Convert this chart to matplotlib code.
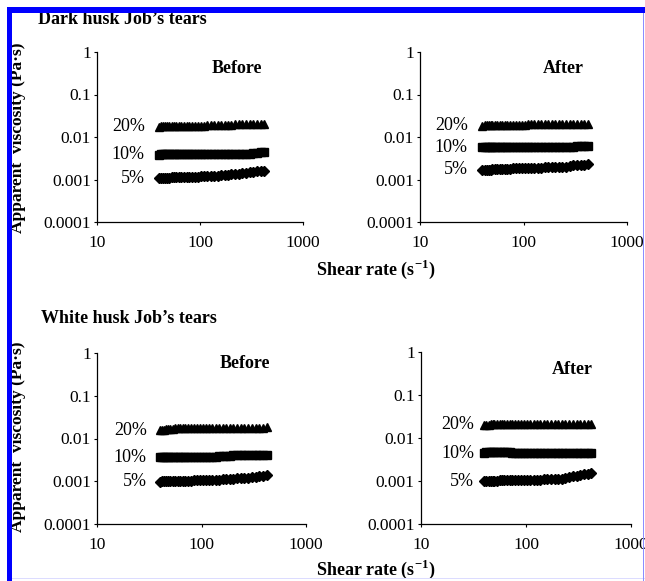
import numpy as np
import matplotlib.pyplot as plt
from matplotlib.patches import Rectangle

plt.rcParams['font.family'] = ['Liberation Serif', 'DejaVu Serif']
plt.rcParams['mathtext.fontset'] = 'custom'
plt.rcParams['mathtext.rm'] = 'Liberation Serif'
plt.rcParams['mathtext.bf'] = 'Liberation Serif:bold'

W, H = 645, 581

# shear rate grid (1/s)
shear_rate = [40, 42, 44, 46, 48, 50, 53, 56, 59, 62, 66, 70, 74, 79, 84, 90, 96, 103,
              110, 118, 127, 137, 148, 160, 173, 187, 202, 219, 237, 257, 279, 303, 329, 357, 388, 420]

# dark husk, before
dark_before_20 = [0.0176, 0.0177, 0.0177, 0.0178, 0.0178, 0.0178, 0.0179, 0.0179, 0.0180, 0.0180, 0.0181, 0.0181,
                  0.0182, 0.0182, 0.0183, 0.0183, 0.0184, 0.0185, 0.0186, 0.0188, 0.0190, 0.0191, 0.0192, 0.0193,
                  0.0194, 0.0195, 0.0196, 0.0197, 0.0197, 0.0198, 0.0199, 0.0200, 0.0200, 0.0201, 0.0202, 0.0203]
dark_before_10 = [0.00380, 0.00400, 0.00400, 0.00400, 0.00400, 0.00400, 0.00400, 0.00400, 0.00400, 0.00400, 0.00401, 0.00401,
                  0.00401, 0.00401, 0.00402, 0.00402, 0.00402, 0.00402, 0.00403, 0.00403, 0.00403, 0.00403, 0.00404, 0.00404,
                  0.00404, 0.00405, 0.00405, 0.00405, 0.00406, 0.00406, 0.00407, 0.00408, 0.00410, 0.00430, 0.00445, 0.00450]
dark_before_5 = [0.00108, 0.00109, 0.00110, 0.00110, 0.00111, 0.00111, 0.00112, 0.00112, 0.00113, 0.00113, 0.00113, 0.00114,
                 0.00114, 0.00115, 0.00115, 0.00116, 0.00117, 0.00118, 0.00119, 0.00120, 0.00121, 0.00123, 0.00124, 0.00126,
                 0.00128, 0.00130, 0.00132, 0.00134, 0.00137, 0.00140, 0.00143, 0.00147, 0.00151, 0.00155, 0.00158, 0.00162]

# dark husk, after
dark_after_20 = [0.0186, 0.0187, 0.0187, 0.0188, 0.0188, 0.0189, 0.0189, 0.0190, 0.0190, 0.0190, 0.0191, 0.0191,
                 0.0192, 0.0192, 0.0193, 0.0194, 0.0195, 0.0196, 0.0197, 0.0198, 0.0199, 0.0200, 0.0200, 0.0201,
                 0.0201, 0.0202, 0.0202, 0.0203, 0.0203, 0.0204, 0.0204, 0.0205, 0.0205, 0.0206, 0.0206, 0.0207]
dark_after_10 = [0.00570, 0.00570, 0.00570, 0.00571, 0.00571, 0.00571, 0.00572, 0.00572, 0.00572, 0.00573, 0.00573, 0.00573,
                 0.00574, 0.00574, 0.00574, 0.00575, 0.00575, 0.00575, 0.00576, 0.00576, 0.00576, 0.00577, 0.00577, 0.00577,
                 0.00578, 0.00578, 0.00578, 0.00579, 0.00579, 0.00580, 0.00580, 0.00581, 0.00600, 0.00610, 0.00612, 0.00615]
dark_after_5 = [0.00168, 0.00169, 0.00170, 0.00170, 0.00171, 0.00172, 0.00173, 0.00174, 0.00175, 0.00176, 0.00178, 0.00180,
                0.00181, 0.00182, 0.00183, 0.00184, 0.00185, 0.00186, 0.00187, 0.00188, 0.00189, 0.00190, 0.00191, 0.00192,
                0.00193, 0.00194, 0.00195, 0.00196, 0.00197, 0.00198, 0.00205, 0.00215, 0.00220, 0.00222, 0.00225, 0.00228]

# white husk, before
white_before_20 = [0.0158, 0.0160, 0.0162, 0.0166, 0.0170, 0.0171, 0.0171, 0.0172, 0.0172, 0.0172, 0.0173, 0.0173,
                   0.0173, 0.0174, 0.0174, 0.0174, 0.0175, 0.0175, 0.0175, 0.0176, 0.0176, 0.0176, 0.0177, 0.0177,
                   0.0177, 0.0177, 0.0178, 0.0178, 0.0178, 0.0178, 0.0179, 0.0179, 0.0179, 0.0180, 0.0180, 0.0181]
white_before_10 = [0.00368, 0.00368, 0.00368, 0.00369, 0.00369, 0.00369, 0.00370, 0.00370, 0.00370, 0.00371, 0.00371, 0.00371,
                   0.00372, 0.00372, 0.00372, 0.00373, 0.00373, 0.00374, 0.00374, 0.00375, 0.00375, 0.00376, 0.00395, 0.00400,
                   0.00400, 0.00400, 0.00401, 0.00401, 0.00401, 0.00402, 0.00402, 0.00402, 0.00403, 0.00403, 0.00404, 0.00405]
white_before_5 = [0.00098, 0.00099, 0.00099, 0.00100, 0.00100, 0.00101, 0.00101, 0.00102, 0.00102, 0.00103, 0.00103, 0.00104,
                  0.00104, 0.00104, 0.00105, 0.00105, 0.00106, 0.00106, 0.00107, 0.00107, 0.00108, 0.00108, 0.00109, 0.00110,
                  0.00111, 0.00112, 0.00114, 0.00116, 0.00118, 0.00120, 0.00122, 0.00125, 0.00128, 0.00132, 0.00136, 0.00142]

# white husk, after
white_after_20 = [0.0205, 0.0206, 0.0206, 0.0207, 0.0207, 0.0208, 0.0208, 0.0208, 0.0209, 0.0209, 0.0209, 0.0210,
                  0.0210, 0.0210, 0.0210, 0.0211, 0.0211, 0.0211, 0.0211, 0.0212, 0.0212, 0.0212, 0.0212, 0.0213,
                  0.0213, 0.0213, 0.0213, 0.0214, 0.0214, 0.0214, 0.0214, 0.0215, 0.0215, 0.0215, 0.0216, 0.0216]
white_after_10 = [0.00440, 0.00470, 0.00475, 0.00478, 0.00480, 0.00480, 0.00480, 0.00480, 0.00480, 0.00478, 0.00476, 0.00475,
                  0.00445, 0.00444, 0.00444, 0.00443, 0.00443, 0.00443, 0.00442, 0.00442, 0.00442, 0.00441, 0.00441, 0.00441,
                  0.00440, 0.00440, 0.00440, 0.00440, 0.00440, 0.00440, 0.00440, 0.00440, 0.00440, 0.00440, 0.00440, 0.00440]
white_after_5 = [0.00100, 0.00100, 0.00100, 0.00101, 0.00101, 0.00102, 0.00102, 0.00103, 0.00103, 0.00104, 0.00104, 0.00105,
                 0.00105, 0.00105, 0.00106, 0.00106, 0.00107, 0.00107, 0.00107, 0.00108, 0.00108, 0.00108, 0.00109, 0.00109,
                 0.00110, 0.00110, 0.00111, 0.00112, 0.00118, 0.00125, 0.00128, 0.00130, 0.00140, 0.00145, 0.00148, 0.00150]

conc_labels = ['20%', '10%', '5%']
markers = ['^', 's', 'D']
y_ticks = [0.0001, 0.001, 0.01, 0.1, 1]
y_tick_labels = ['0.0001', '0.001', '0.01', '0.1', '1']
x_ticks = [10, 100, 1000]
x_tick_labels = ['10', '100', '1000']


def px_rect(x0, x1, top, bottom):
    # pixel box (origin top-left) -> figure fraction rect
    return [x0 / W, 1 - bottom / H, (x1 - x0) / W, (bottom - top) / H]


def panel(fig, rect, series, label_x, word, word_xy):
    ax = fig.add_axes(rect)
    ax.set_xscale('log')
    ax.set_yscale('log')
    ax.set_xlim(10, 1000)
    ax.set_ylim(0.0001, 1)
    for y, m, lab in zip(series, markers, conc_labels):
        ms = 5.8 if m == '^' else (5.2 if m == 's' else 5.4)
        ax.plot(shear_rate, y, linestyle='none', marker=m, color='black', markersize=ms)
        ax.text(label_x, y[0], lab, ha='right', va='center', fontsize=13)
    ax.text(word_xy[0], word_xy[1], word, ha='center', va='center', fontsize=13, fontweight='bold')
    ax.set_yticks(y_ticks)
    ax.set_yticklabels(y_tick_labels)
    ax.set_xticks(x_ticks)
    ax.set_xticklabels(x_tick_labels)
    ax.minorticks_off()
    ax.tick_params(axis='both', direction='out', length=2.5, width=0.8, labelsize=12.5)
    ax.tick_params(axis='y', pad=2)
    ax.tick_params(axis='x', pad=7)
    for s in ['top', 'right']:
        ax.spines[s].set_visible(False)
    for s in ['left', 'bottom']:
        ax.spines[s].set_linewidth(0.9)
    return ax


fig = plt.figure(figsize=(W / 100, H / 100), dpi=100)

panel(fig, px_rect(97, 303, 52, 222), [dark_before_20, dark_before_10, dark_before_5], 29, 'Before', (230, 0.42))
panel(fig, px_rect(420, 627, 52, 222), [dark_after_20, dark_after_10, dark_after_5], 29, 'After', (240, 0.42))
panel(fig, px_rect(97, 306, 353, 524), [white_before_20, white_before_10, white_before_5], 30, 'Before', (263, 0.58))
panel(fig, px_rect(421, 631, 352, 524), [white_after_20, white_after_10, white_after_5], 32, 'After', (275, 0.40))

# headings and shared axis titles
fig.text(38 / W, 1 - 24 / H, 'Dark husk Job\u2019s tears', ha='left', va='baseline', fontsize=13, fontweight='bold')
fig.text(41 / W, 1 - 323 / H, 'White husk Job\u2019s tears', ha='left', va='baseline', fontsize=13, fontweight='bold')
fig.text(376 / W, 1 - 275 / H, r'Shear rate (s$^{\mathbf{-1}}$)', ha='center', va='baseline', fontsize=13, fontweight='bold')
fig.text(376 / W, 1 - 575 / H, r'Shear rate (s$^{\mathbf{-1}}$)', ha='center', va='baseline', fontsize=13, fontweight='bold')
fig.text(18 / W, 1 - 138 / H, 'Apparent  viscosity (Pa\u00b7s)', rotation=90, ha='center', va='center', fontsize=12.5, fontweight='bold')
fig.text(18 / W, 1 - 437 / H, 'Apparent  viscosity (Pa\u00b7s)', rotation=90, ha='center', va='center', fontsize=12.5, fontweight='bold')

# frame around the figure
fig.add_artist(Rectangle((7 / W, 1 - 13 / H), 1 - 7 / W, 6 / H, transform=fig.transFigure,
                         facecolor='#0000ff', edgecolor='none', zorder=10))
fig.add_artist(Rectangle((7 / W, 0), 5 / W, 1 - 7 / H, transform=fig.transFigure,
                         facecolor='#0000ff', edgecolor='none', zorder=10))
fig.add_artist(Rectangle((642.5 / W, 0), 1.5 / W, 1 - 13 / H, transform=fig.transFigure,
                         facecolor='#8c8cff', edgecolor='none', zorder=10))
fig.add_artist(Rectangle((12 / W, 2 / H), 1 - 12 / W, 1.2 / H, transform=fig.transFigure,
                         facecolor='#dcdcff', edgecolor='none', zorder=9))

fig.savefig('out.png', dpi=100)
